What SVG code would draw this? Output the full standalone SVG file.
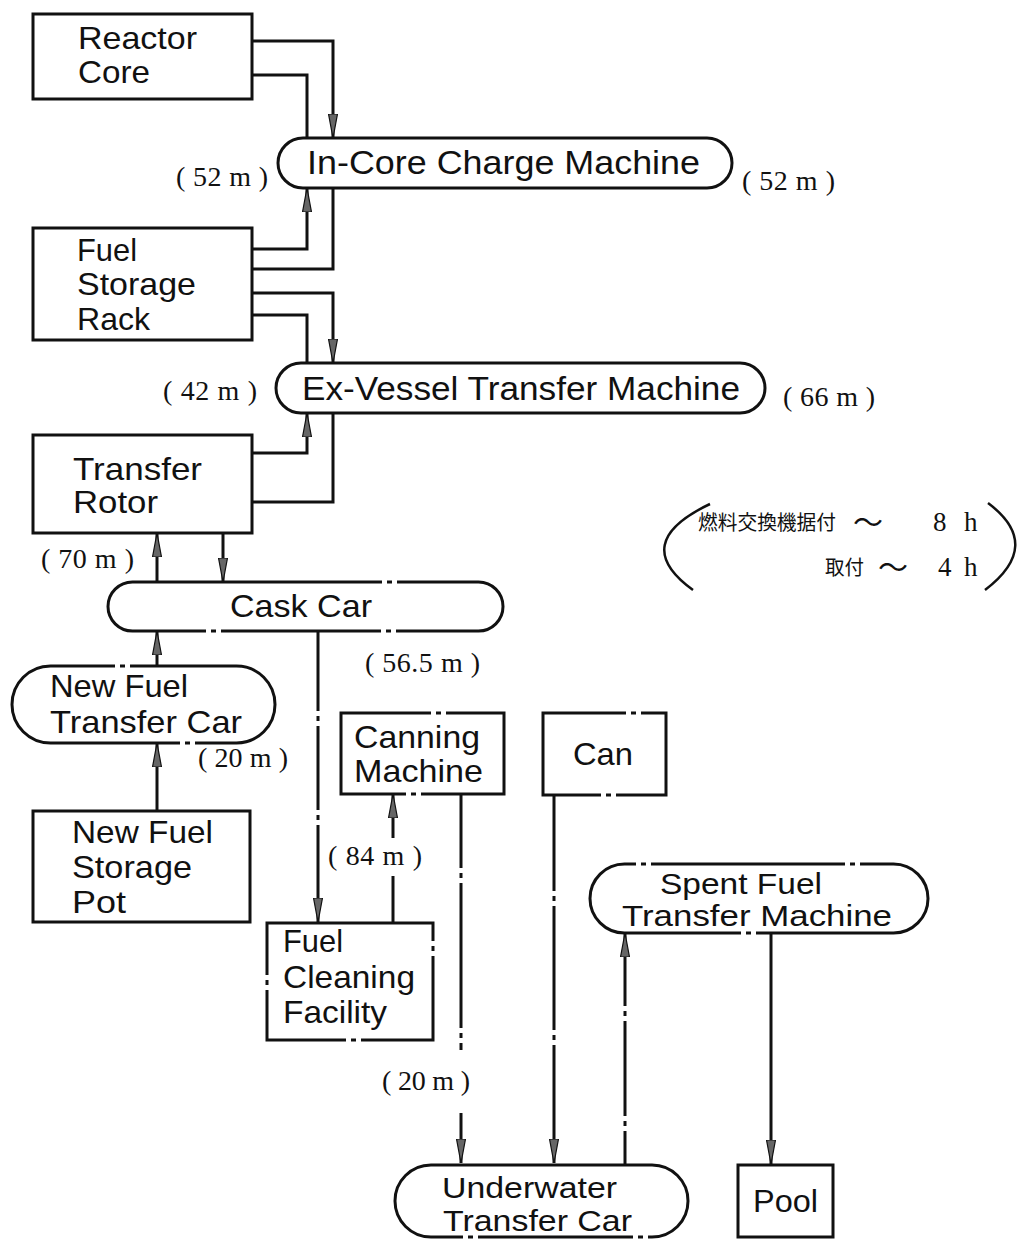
<svg xmlns="http://www.w3.org/2000/svg" width="1020" height="1239" viewBox="0 0 1020 1239">
<style>
.bg{fill:#fff}
.nd{fill:none;stroke:#111;stroke-width:3}
.ln{fill:none;stroke:#111;stroke-width:3}
.brk{fill:none;stroke:#fff;stroke-width:6;stroke-dasharray:5 5 5 100}
.t{font-family:"Liberation Sans",Arial,sans-serif;font-size:32px;fill:#111}
.ts{font-family:"Liberation Sans",Arial,sans-serif;font-size:30px;fill:#111}
.tb{font-family:"Liberation Sans",Arial,sans-serif;font-size:33px;fill:#111}
.lb{font-family:"Liberation Serif","Times New Roman",serif;font-size:28px;fill:#111}
.jp{font-family:"Noto Sans CJK JP","Noto Sans CJK SC",sans-serif;font-size:20px;fill:#111}
.tl{font-family:"Noto Sans CJK JP","Noto Sans CJK SC",sans-serif;font-size:30px;fill:#111}
.sr{font-family:"Liberation Serif","Times New Roman",serif;font-size:27px;fill:#111}
.par{fill:none;stroke:#111;stroke-width:2.5}
</style>
<defs>
<marker id="ah" viewBox="0 0 24 10" refX="24" refY="5" markerWidth="24" markerHeight="10" markerUnits="userSpaceOnUse" orient="auto">
<path d="M0,0.5 L24,5 L0,9.5 z" fill="#666" stroke="#111" stroke-width="1.2"/>
</marker>
</defs>
<rect class="bg" x="0" y="0" width="1020" height="1239"/>

<g id="connectors">
<path class="ln" d="M252,41 H333 V138" marker-end="url(#ah)"/>
<path class="ln" d="M307,138 V75 H252"/>
<path class="ln" d="M252,249 H307 V188" marker-end="url(#ah)"/>
<path class="ln" d="M333,188 V269 H252"/>
<path class="ln" d="M252,293 H333 V363" marker-end="url(#ah)"/>
<path class="ln" d="M307,363 V315 H252"/>
<path class="ln" d="M252,453 H307 V413" marker-end="url(#ah)"/>
<path class="ln" d="M333,413 V502 H252"/>
<path class="ln" d="M157,582 V533" marker-end="url(#ah)"/>
<path class="ln" d="M223,533 V582" marker-end="url(#ah)"/>
<path class="ln" d="M157,666 V631" marker-end="url(#ah)"/>
<path class="ln" d="M157,811 V743" marker-end="url(#ah)"/>
<path class="ln" d="M318,631 V922" marker-end="url(#ah)"/>
<line class="brk" x1="318" y1="711" x2="318" y2="726"/>
<line class="brk" x1="318" y1="810" x2="318" y2="825"/>
<path class="ln" d="M393,922 V876"/>
<path class="ln" d="M393,838 V794" marker-end="url(#ah)"/>
<path class="ln" d="M461,794 V1050"/>
<line class="brk" x1="461" y1="868" x2="461" y2="883"/>
<line class="brk" x1="461" y1="1028" x2="461" y2="1043"/>
<path class="ln" d="M461,1113 V1163" marker-end="url(#ah)"/>
<path class="ln" d="M554,795 V1163" marker-end="url(#ah)"/>
<line class="brk" x1="554" y1="891" x2="554" y2="906"/>
<line class="brk" x1="554" y1="1030" x2="554" y2="1045"/>
<path class="ln" d="M625,1165 V933" marker-end="url(#ah)"/>
<line class="brk" x1="625" y1="1006" x2="625" y2="1021"/>
<line class="brk" x1="625" y1="1116" x2="625" y2="1131"/>
<path class="ln" d="M771,933 V1164" marker-end="url(#ah)"/>
</g>

<g id="reactor-core">
<rect class="nd" x="33" y="14" width="219" height="85"/>
<text class="t" x="78" y="49" textLength="119" lengthAdjust="spacingAndGlyphs">Reactor</text>
<text class="t" x="78" y="83" textLength="72" lengthAdjust="spacingAndGlyphs">Core</text>
</g>

<g id="in-core-charge-machine">
<rect class="nd" x="278" y="138" width="454" height="50" rx="25"/>
<text class="tb" x="307" y="174" textLength="393" lengthAdjust="spacingAndGlyphs">In-Core Charge Machine</text>
</g>

<g id="fuel-storage-rack">
<rect class="nd" x="33" y="228" width="219" height="112"/>
<text class="t" x="77" y="261" textLength="60" lengthAdjust="spacingAndGlyphs">Fuel</text>
<text class="t" x="77" y="295" textLength="119" lengthAdjust="spacingAndGlyphs">Storage</text>
<text class="t" x="77" y="330" textLength="73" lengthAdjust="spacingAndGlyphs">Rack</text>
</g>

<g id="ex-vessel-transfer-machine">
<rect class="nd" x="276" y="363" width="489" height="50" rx="25"/>
<text class="tb" x="302" y="400" textLength="438" lengthAdjust="spacingAndGlyphs">Ex-Vessel Transfer Machine</text>
</g>

<g id="transfer-rotor">
<rect class="nd" x="33" y="435" width="219" height="98"/>
<text class="t" x="73" y="480" textLength="129" lengthAdjust="spacingAndGlyphs">Transfer</text>
<text class="t" x="73" y="513" textLength="85" lengthAdjust="spacingAndGlyphs">Rotor</text>
</g>

<g id="cask-car">
<rect class="nd" x="108" y="582" width="395" height="49" rx="24.5"/>
<line class="brk" x1="382" y1="582" x2="397" y2="582"/>
<line class="brk" x1="206" y1="631" x2="221" y2="631"/>
<line class="brk" x1="381" y1="631" x2="396" y2="631"/>
<text class="t" x="230" y="617" textLength="142" lengthAdjust="spacingAndGlyphs">Cask Car</text>
</g>

<g id="new-fuel-transfer-car">
<rect class="nd" x="12" y="666" width="263" height="77" rx="38.5"/>
<line class="brk" x1="115" y1="666" x2="130" y2="666"/>
<line class="brk" x1="180" y1="743" x2="195" y2="743"/>
<text class="t" x="50" y="697" textLength="138" lengthAdjust="spacingAndGlyphs">New Fuel</text>
<text class="t" x="50" y="733" textLength="192" lengthAdjust="spacingAndGlyphs">Transfer Car</text>
</g>

<g id="new-fuel-storage-pot">
<rect class="nd" x="33" y="811" width="217" height="111"/>
<text class="t" x="72" y="843" textLength="141" lengthAdjust="spacingAndGlyphs">New Fuel</text>
<text class="t" x="72" y="878" textLength="120" lengthAdjust="spacingAndGlyphs">Storage</text>
<text class="t" x="72" y="913" textLength="54" lengthAdjust="spacingAndGlyphs">Pot</text>
</g>

<g id="canning-machine">
<rect class="nd" x="341" y="713" width="163" height="81"/>
<line class="brk" x1="431" y1="713" x2="446" y2="713"/>
<line class="brk" x1="406" y1="794" x2="421" y2="794"/>
<text class="t" x="354" y="748" textLength="126" lengthAdjust="spacingAndGlyphs">Canning</text>
<text class="t" x="354" y="782" textLength="129" lengthAdjust="spacingAndGlyphs">Machine</text>
</g>

<g id="can">
<rect class="nd" x="543" y="713" width="123" height="82"/>
<line class="brk" x1="626" y1="713" x2="641" y2="713"/>
<line class="brk" x1="601" y1="795" x2="616" y2="795"/>
<text class="t" x="573" y="765" textLength="60" lengthAdjust="spacingAndGlyphs">Can</text>
</g>

<g id="fuel-cleaning-facility">
<rect class="nd" x="267" y="923" width="166" height="117"/>
<line class="brk" x1="267" y1="975" x2="267" y2="990"/>
<line class="brk" x1="433" y1="941" x2="433" y2="956"/>
<line class="brk" x1="346" y1="1040" x2="361" y2="1040"/>
<text class="t" x="283" y="952" textLength="60" lengthAdjust="spacingAndGlyphs">Fuel</text>
<text class="t" x="283" y="988" textLength="132" lengthAdjust="spacingAndGlyphs">Cleaning</text>
<text class="t" x="283" y="1023" textLength="104" lengthAdjust="spacingAndGlyphs">Facility</text>
</g>

<g id="spent-fuel-transfer-machine">
<rect class="nd" x="590" y="864" width="338" height="69" rx="34.5"/>
<line class="brk" x1="636" y1="864" x2="651" y2="864"/>
<line class="brk" x1="845" y1="864" x2="860" y2="864"/>
<line class="brk" x1="741" y1="933" x2="756" y2="933"/>
<text class="ts" x="660" y="894" textLength="162" lengthAdjust="spacingAndGlyphs">Spent Fuel</text>
<text class="ts" x="622" y="926" textLength="270" lengthAdjust="spacingAndGlyphs">Transfer Machine</text>
</g>

<g id="underwater-transfer-car">
<rect class="nd" x="395" y="1165" width="293" height="72" rx="36"/>
<line class="brk" x1="463" y1="1237" x2="478" y2="1237"/>
<line class="brk" x1="633" y1="1237" x2="648" y2="1237"/>
<text class="ts" x="442" y="1198" textLength="175" lengthAdjust="spacingAndGlyphs">Underwater</text>
<text class="ts" x="443" y="1231" textLength="189" lengthAdjust="spacingAndGlyphs">Transfer Car</text>
</g>

<g id="pool">
<rect class="nd" x="738" y="1165" width="95" height="72"/>
<text class="t" x="753" y="1212" textLength="65" lengthAdjust="spacingAndGlyphs">Pool</text>
</g>

<g id="labels">
<text class="lb" x="176" y="186" textLength="92" lengthAdjust="spacing">( 52 m )</text>
<text class="lb" x="742" y="190" textLength="93" lengthAdjust="spacing">( 52 m )</text>
<text class="lb" x="163" y="400" textLength="94" lengthAdjust="spacing">( 42 m )</text>
<text class="lb" x="783" y="406" textLength="92" lengthAdjust="spacing">( 66 m )</text>
<text class="lb" x="41" y="568" textLength="93" lengthAdjust="spacing">( 70 m )</text>
<text class="lb" x="365" y="672" textLength="115" lengthAdjust="spacing">( 56.5 m )</text>
<text class="lb" x="198" y="767" textLength="90" lengthAdjust="spacing">( 20 m )</text>
<text class="lb" x="328" y="865" textLength="94" lengthAdjust="spacing">( 84 m )</text>
<text class="lb" x="382" y="1090" textLength="88" lengthAdjust="spacing">( 20 m )</text>
</g>

<g id="note">
<path class="par" d="M710,504 Q628,543 693,590"/>
<path class="par" d="M988,503 Q1044,545 985,590"/>
<text class="jp" x="698" y="530" textLength="138" lengthAdjust="spacingAndGlyphs">燃料交換機据付</text>
<text class="tl" x="853" y="533">～</text>
<text class="sr" x="933" y="531">8</text>
<text class="sr" x="964" y="531">h</text>
<text class="jp" x="825" y="575" textLength="39" lengthAdjust="spacingAndGlyphs">取付</text>
<text class="tl" x="878" y="578">～</text>
<text class="sr" x="938" y="576">4</text>
<text class="sr" x="964" y="576">h</text>
</g>
</svg>
